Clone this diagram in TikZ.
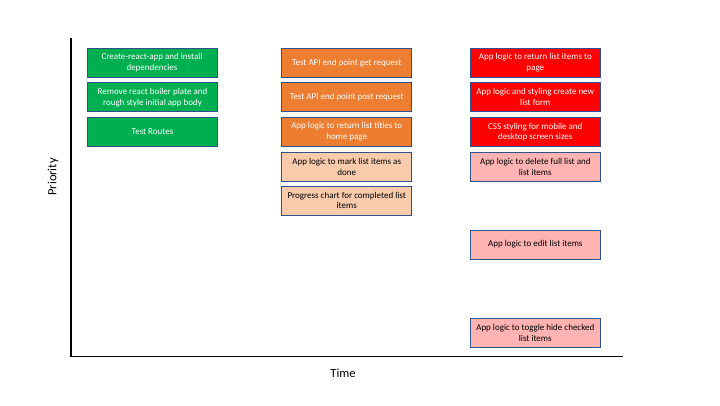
\documentclass[tikz,border=0pt]{standalone}
\usepackage{fontspec}
\setmainfont{Carlito}
\definecolor{cgreen}{HTML}{00B050}
\definecolor{corange}{HTML}{ED7D31}
\definecolor{cred}{HTML}{FF0000}
\definecolor{clightor}{HTML}{F8CBAD}
\definecolor{cpink}{HTML}{FFB3B3}
\definecolor{cborder}{HTML}{2F528F}
\begin{document}
\begin{tikzpicture}[x=1pt,y=-1pt,
  task/.style={draw=cborder, line width=0.9pt, rectangle, minimum width=130pt, minimum height=29pt,
    text width=120.5pt, align=flush center, inner sep=0pt,
    font=\fontsize{9}{10.7}\selectfont},
  dark/.style={task, text=white},
  light/.style={task, text=black},
  axis/.style={line width=1.3pt, black},
  axlabel/.style={font=\fontsize{12.5}{15}\selectfont}]
\useasboundingbox (0,0) rectangle (720,405);
\coordinate (top) at (71,38);
\coordinate (orig) at (71,356.5);
\coordinate (right) at (623,356.5);
\draw[axis] (top) -- (orig) -- (right);
\node[axlabel, rotate=90] (prio) at (53,177) {Priority};
\node[axlabel] (time) at (343,373) {Time};
% column 1
\node[dark, fill=cgreen] (a1) at (152,62.8) {Create-react-app and install dependencies};
\node[dark, fill=cgreen] (a2) at (152.5,97.3) {Remove react boiler plate and rough style initial app body};
\node[dark, fill=cgreen] (a3) at (152.5,131.7) {Test Routes};
% column 2
\node[dark, fill=corange] (b1) at (346.7,62.8) {Test API end point get request};
\node[dark, fill=corange] (b2) at (346.7,97) {Test API end point post request};
\node[dark, fill=corange] (b3) at (346.7,131.7) {App logic to return list titles to home page};
\node[light, fill=clightor] (b4) at (346.7,167) {App logic to mark list items as done};
\node[light, fill=clightor] (b5) at (346.7,200.5) {Progress chart for completed list items};
% column 3
\node[dark, fill=cred] (c1) at (535.3,62.8) {App logic to return list items to page};
\node[dark, fill=cred] (c2) at (535.3,97) {App logic and styling create new list form};
\node[dark, fill=cred] (c3) at (535.3,132) {CSS styling for mobile and desktop screen sizes};
\node[light, fill=cpink] (c4) at (535.3,167) {App logic to delete full list and list items};
\node[light, fill=cpink] (c5) at (535.3,244.6) {App logic to edit list items};
\node[light, fill=cpink] (c6) at (535.3,333) {App logic to toggle hide checked list items};
\end{tikzpicture}
\end{document}
